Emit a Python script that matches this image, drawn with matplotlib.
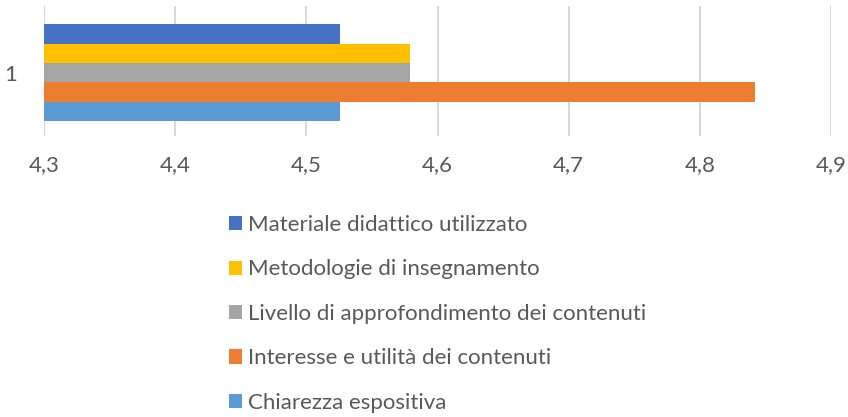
import matplotlib
matplotlib.use("Agg")
from matplotlib import pyplot as plt
from matplotlib.ticker import FuncFormatter

# series (top to bottom in the chart / legend order)
series_names = [
    "Materiale didattico utilizzato",
    "Metodologie di insegnamento",
    "Livello di approfondimento dei contenuti",
    "Interesse e utilità dei contenuti",
    "Chiarezza espositiva",
]
series_values = [4.526, 4.579, 4.579, 4.842, 4.526]
series_colors = ["#4472C4", "#FFC000", "#A5A5A5", "#ED7D31", "#5B9BD5"]
category = "1"
x_ticks = [4.3, 4.4, 4.5, 4.6, 4.7, 4.8, 4.9]

plt.rcParams['font.family'] = ['Lato', 'DejaVu Sans']
text_color = "#595959"
fs = 16

fig = plt.figure(figsize=(8.48, 4.17), dpi=100)
ax = fig.add_axes([44 / 848, 1 - 136 / 417, (831 - 44) / 848, 130 / 417])

n = len(series_values)
base = min(x_ticks)
for i, (name, val, col) in enumerate(zip(series_names, series_values, series_colors)):
    y = i - (n - 1) / 2
    ax.barh(y, val - base, left=base, height=1.0, color=col, label=name, zorder=3)

ax.set_xlim(min(x_ticks), max(x_ticks))
ax.set_ylim(3.29, -3.46)
ax.set_xticks(x_ticks)
ax.xaxis.set_major_formatter(FuncFormatter(lambda v, p: f"{v:.1f}".replace(".", ",")))
ax.set_yticks([0])
ax.set_yticklabels([category])
ax.tick_params(axis="both", length=0, labelsize=fs, colors=text_color)
ax.tick_params(axis="x", pad=13.5)
ax.tick_params(axis="y", pad=19.5)
ax.grid(axis="x", color="#D9D9D9", linewidth=1.5, zorder=0)
for s in ax.spines.values():
    s.set_visible(False)

fig.legend(loc="upper left", bbox_to_anchor=(229 / 848, 1 - 215 / 417), frameon=False,
           fontsize=fs, labelcolor=text_color, handlelength=0.6, handleheight=0.6,
           handletextpad=0.25, labelspacing=1.1, borderpad=0, borderaxespad=0)

fig.savefig("out.png", dpi=100)
